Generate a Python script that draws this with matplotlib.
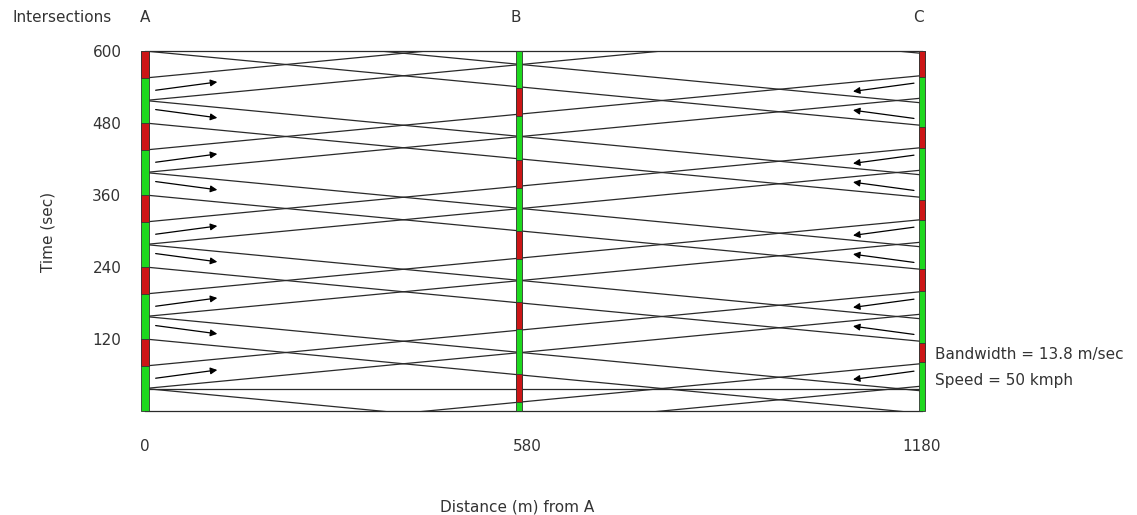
import matplotlib.pyplot as plt

plt.rcParams['font.family'] = ['DejaVu Sans']

# intersections (distance from A, m) as drawn
names = ['A', 'B', 'C']
positions = [0, 568, 1180]
tick_pos = [0, 580, 1180]
tick_lab = ['0', '580', '1180']

# red phases at each intersection (sec), green otherwise
red_a = [(75, 120), (195, 240), (315, 360), (435, 480), (555, 600)]
red_b = [(15, 61), (136, 181), (254, 300), (372, 419), (492, 538)]
red_c = [(81, 114), (200, 236), (319, 352), (438, 474), (557, 600)]
reds = [red_a, red_b, red_c]

# travel time A -> C along the band (sec)
travel = 124

# band edges: forward leave A, backward arrive at A (sec)
fwd_starts = [-82.5, -45, 37.5, 75, 157.5, 195, 277.5, 315, 397.5, 435, 517.5, 555]
bwd_arrive = [37.5, 120, 157.5, 240, 277.5, 360, 397.5, 480, 517.5, 600, 637.5, 720]
flat_line = 37.5

# arrow tail times (sec)
arrow_a_fwd = [54, 174, 294, 414, 534]
arrow_a_bwd = [143, 263, 383, 503]
arrow_c_fwd = [67, 187, 307, 427, 547]
arrow_c_bwd = [127, 247, 367, 487]

W, H = 1137, 515
fig = plt.figure(figsize=(W / 100, H / 100), dpi=100)
ax = fig.add_axes([145 / W, 1 - 411 / H, 777 / W, 360 / H])
ax.set_xlim(0, 1180)
ax.set_ylim(0, 600)

lc = '#2a2a2a'
for t0 in fwd_starts:
    ax.plot([0, 1180], [t0, t0 + travel], color=lc, lw=0.9)
for t0 in bwd_arrive:
    ax.plot([0, 1180], [t0, t0 - travel], color=lc, lw=0.9)
ax.plot([0, 1180], [flat_line, flat_line], color=lc, lw=0.9)

# arrows
ap = dict(arrowstyle='-|>', color='black', lw=0.9, mutation_scale=10)
for t in arrow_a_fwd:
    ax.annotate('', xy=(114, t + 15), xytext=(12, t), arrowprops=ap)
for t in arrow_a_bwd:
    ax.annotate('', xy=(114, t - 15), xytext=(12, t), arrowprops=ap)
for t in arrow_c_fwd:
    ax.annotate('', xy=(1071, t - 15), xytext=(1172, t), arrowprops=ap)
for t in arrow_c_bwd:
    ax.annotate('', xy=(1071, t + 15), xytext=(1172, t), arrowprops=ap)

# signal bars
green = '#1ed81e'
red = '#cc1616'
for x, rr, w in zip(positions, reds, [11, 9, 10]):
    ax.bar(x, 600, bottom=0, width=w, color=green, edgecolor='#333333',
           linewidth=0.6, clip_on=False, zorder=5)
    for s, e in rr:
        ax.bar(x, e - s, bottom=s, width=w, color=red, edgecolor='#333333',
               linewidth=0.6, clip_on=False, zorder=6)

for side in ['left', 'right']:
    ax.spines[side].set_visible(False)
for side in ['top', 'bottom']:
    ax.spines[side].set_color(lc)
    ax.spines[side].set_linewidth(0.9)

tc = '#333333'
fs = 11
ax.set_xticks(tick_pos)
ax.set_xticklabels(tick_lab)
ax.set_yticks([120, 240, 360, 480, 600])
ax.tick_params(axis='x', length=0, pad=20, labelsize=fs, colors=tc)
ax.tick_params(axis='y', length=0, pad=17, labelsize=fs, colors=tc)

fig.text(12 / W, 1 - 17 / H, 'Intersections', fontsize=fs, va='center', color=tc)
for n, px in zip(names, [145, 516, 918]):
    fig.text(px / W, 1 - 17 / H, n, fontsize=fs, ha='center', va='center', color=tc)
fig.text(48 / W, 1 - 232 / H, 'Time (sec)', fontsize=fs, rotation=90,
         ha='center', va='center', color=tc)
fig.text(517 / W, 1 - 507 / H, 'Distance (m) from A', fontsize=fs,
         ha='center', va='center', color=tc)
fig.text(935 / W, 1 - 354 / H, 'Bandwidth = 13.8 m/sec', fontsize=fs,
         va='center', color=tc)
fig.text(935 / W, 1 - 380 / H, 'Speed = 50 kmph', fontsize=fs,
         va='center', color=tc)

fig.savefig('out.png', dpi=100)
